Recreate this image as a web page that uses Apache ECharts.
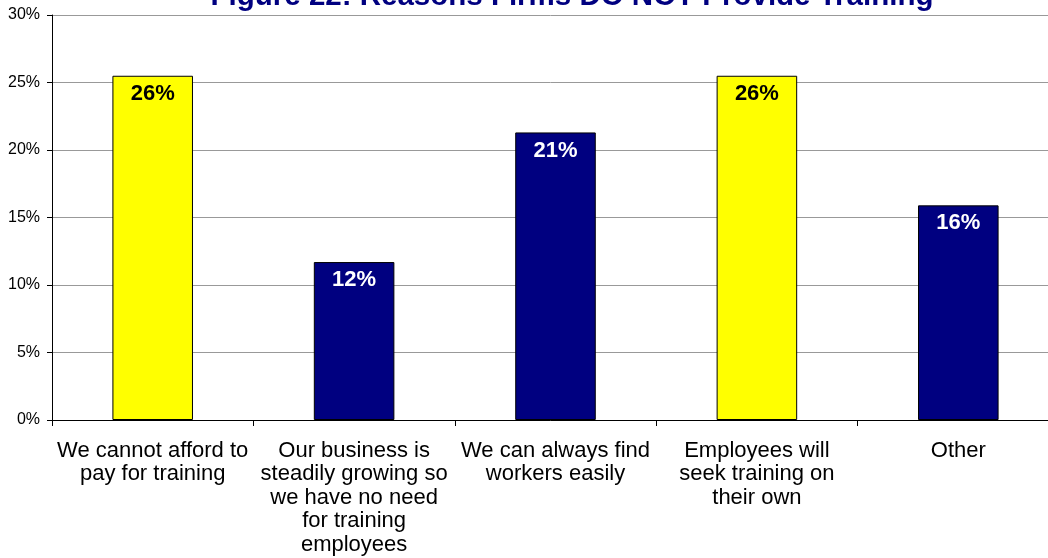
<!DOCTYPE html>
<html>
<head>
<meta charset="utf-8">
<script src="https://cdn.jsdelivr.net/npm/echarts@6/dist/echarts.min.js"></script>
<style>
  html, body { margin: 0; padding: 0; background: #fff; }
  #chart { width: 1048px; height: 558px; }
</style>
</head>
<body>
<div id="chart"></div>
<script>
// Reasons given by firms for not providing training (share of responses, %)
const chartTitle = 'Figure 22: Reasons Firms DO NOT Provide Training';
const categories = [
  'We cannot afford to\npay for training',
  'Our business is\nsteadily growing so\nwe have no need\nfor training\nemployees',
  'We can always find\nworkers easily',
  'Employees will\nseek training on\ntheir own',
  'Other'
];
const values = [25.5, 11.7, 21.3, 25.5, 15.9];
const barColors = ['#FFFF00', '#000080', '#000080', '#FFFF00', '#000080'];
const labelColors = ['#000000', '#FFFFFF', '#FFFFFF', '#000000', '#FFFFFF'];

const FONT = 'Liberation Sans, Arial, sans-serif';
const chart = echarts.init(document.getElementById('chart'), null, { renderer: 'canvas' });

chart.setOption({
  animation: false,
  backgroundColor: '#ffffff',
  title: {
    text: chartTitle,
    left: 567,
    textAlign: 'center',
    top: -23,
    textStyle: {
      fontFamily: FONT,
      fontSize: 29.5,
      fontWeight: 'bold',
      color: '#000080'
    }
  },
  // plot area runs slightly past the right edge of the canvas
  grid: { left: 52, right: -11, top: 15, bottom: 138, containLabel: false, outerBoundsMode: 'none' },
  xAxis: {
    type: 'category',
    data: categories,
    axisLine: { show: true, lineStyle: { color: '#000', width: 1 } },
    axisTick: { show: true, alignWithLabel: false, length: 6, lineStyle: { color: '#000' } },
    axisLabel: {
      interval: 0,
      margin: 19,
      color: '#000',
      fontFamily: FONT,
      fontSize: 22,
      lineHeight: 23.5,
      align: 'center'
    },
    splitLine: { show: false }
  },
  yAxis: {
    type: 'value',
    min: 0,
    max: 30,
    interval: 5,
    axisLine: { show: true, lineStyle: { color: '#000', width: 1 } },
    axisTick: { show: true, length: 5, lineStyle: { color: '#000' } },
    axisLabel: {
      formatter: '{value}%',
      color: '#000',
      margin: 12,
      fontFamily: FONT,
      fontSize: 16
    },
    splitLine: { show: true, lineStyle: { color: '#999999', width: 1 } }
  },
  series: [{
    type: 'bar',
    data: values.map((v, i) => ({
      value: v,
      itemStyle: { color: barColors[i], borderColor: '#000', borderWidth: 1 },
      label: { color: labelColors[i] }
    })),
    barWidth: '40%',
    label: {
      show: true,
      position: 'insideTop',
      distance: 7,
      formatter: p => Math.round(p.value) + '%',
      fontFamily: FONT,
      fontSize: 22,
      fontWeight: 'bold'
    }
  }]
});
</script>
</body>
</html>
